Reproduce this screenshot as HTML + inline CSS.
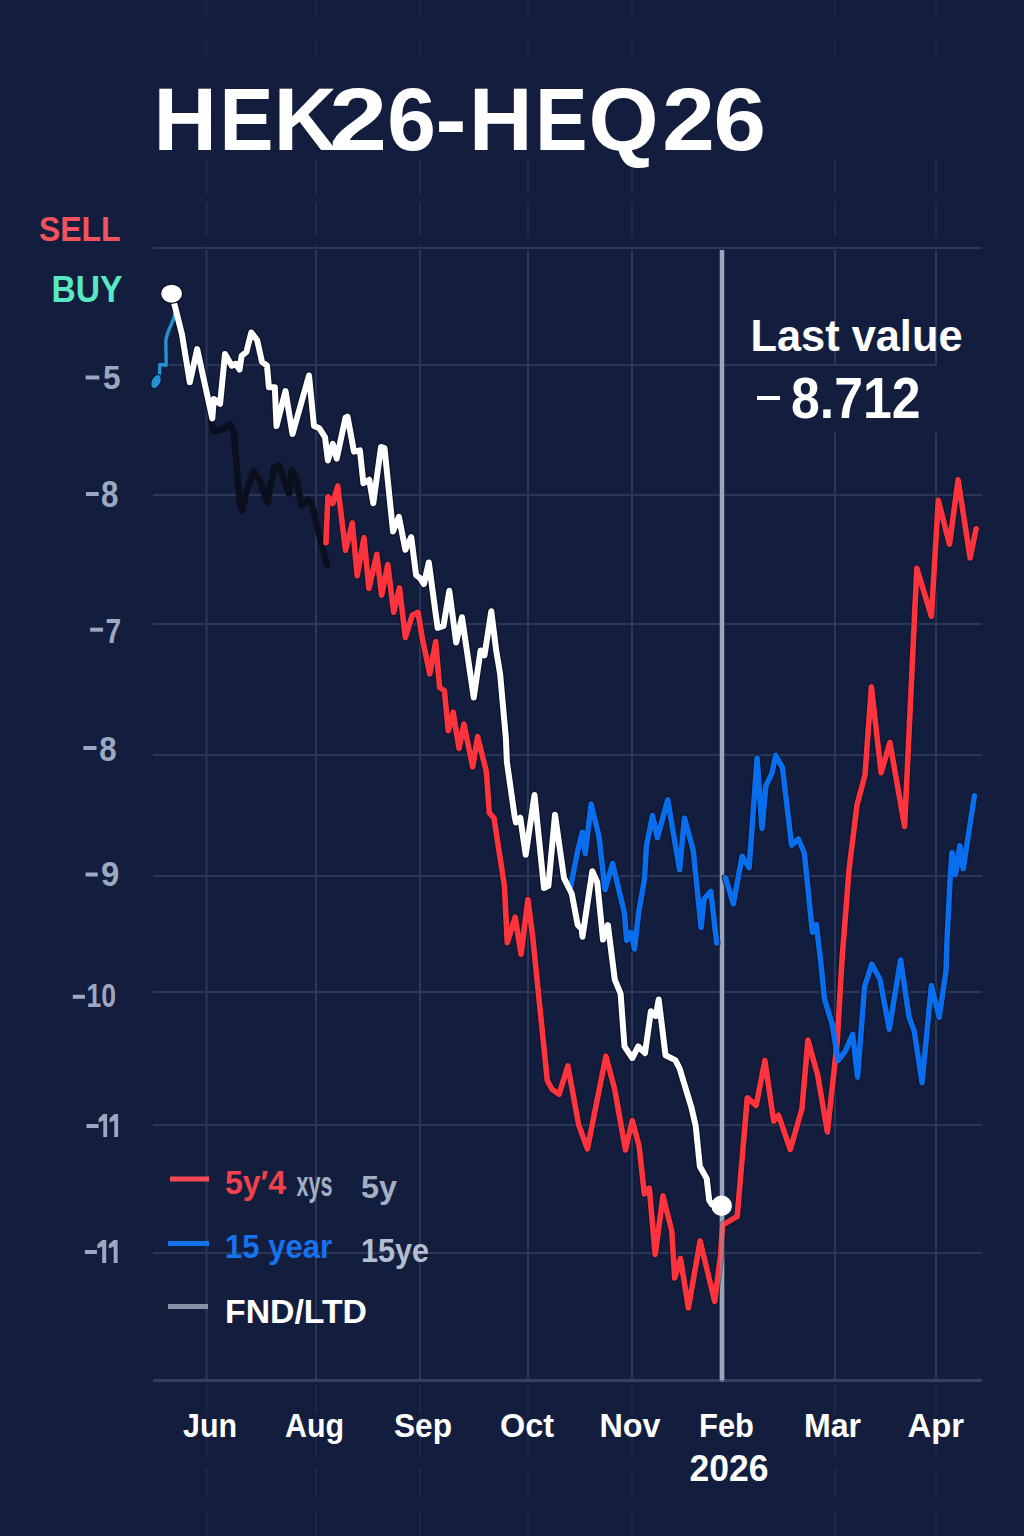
<!DOCTYPE html>
<html><head><meta charset="utf-8"><style>
html,body{margin:0;padding:0;background:#131e3e;}
body{width:1024px;height:1536px;overflow:hidden;position:relative;}
svg{position:absolute;left:0;top:0;}
text{font-family:"Liberation Sans",sans-serif;}
</style></head><body>
<svg width="1024" height="1536" viewBox="0 0 1024 1536">
<rect width="1024" height="1536" fill="#131e3e"/>
<g stroke="#2a3756" stroke-width="2" fill="none">
<line x1="153" y1="248" x2="982" y2="248" />
<line x1="169" y1="365" x2="935" y2="365" />
<line x1="153" y1="495" x2="982" y2="495" />
<line x1="153" y1="624" x2="982" y2="624" />
<line x1="153" y1="755" x2="982" y2="755" />
<line x1="153" y1="876" x2="982" y2="876" />
<line x1="153" y1="992" x2="982" y2="992" />
<line x1="153" y1="1125" x2="982" y2="1125" />
<line x1="153" y1="1253" x2="982" y2="1253" />
<line x1="206.5" y1="250" x2="206.5" y2="1381" />
<line x1="206.5" y1="160" x2="206.5" y2="246" stroke-dasharray="34 8" opacity="0.5"/>
<line x1="206.5" y1="0" x2="206.5" y2="66" stroke-dasharray="16 24" opacity="0.35"/>
<line x1="206.5" y1="1384" x2="206.5" y2="1536" stroke-dasharray="30 12" opacity="0.4"/>
<line x1="316" y1="250" x2="316" y2="1381" />
<line x1="316" y1="160" x2="316" y2="246" stroke-dasharray="34 8" opacity="0.5"/>
<line x1="316" y1="0" x2="316" y2="66" stroke-dasharray="16 24" opacity="0.35"/>
<line x1="316" y1="1384" x2="316" y2="1536" stroke-dasharray="30 12" opacity="0.4"/>
<line x1="420" y1="250" x2="420" y2="1381" />
<line x1="420" y1="160" x2="420" y2="246" stroke-dasharray="34 8" opacity="0.5"/>
<line x1="420" y1="0" x2="420" y2="66" stroke-dasharray="16 24" opacity="0.35"/>
<line x1="420" y1="1384" x2="420" y2="1536" stroke-dasharray="30 12" opacity="0.4"/>
<line x1="528" y1="250" x2="528" y2="1381" />
<line x1="528" y1="160" x2="528" y2="246" stroke-dasharray="34 8" opacity="0.5"/>
<line x1="528" y1="0" x2="528" y2="66" stroke-dasharray="16 24" opacity="0.35"/>
<line x1="528" y1="1384" x2="528" y2="1536" stroke-dasharray="30 12" opacity="0.4"/>
<line x1="632" y1="250" x2="632" y2="1381" />
<line x1="632" y1="160" x2="632" y2="246" stroke-dasharray="34 8" opacity="0.5"/>
<line x1="632" y1="0" x2="632" y2="66" stroke-dasharray="16 24" opacity="0.35"/>
<line x1="632" y1="1384" x2="632" y2="1536" stroke-dasharray="30 12" opacity="0.4"/>
<line x1="835" y1="250" x2="835" y2="1381" />
<line x1="835" y1="160" x2="835" y2="246" stroke-dasharray="34 8" opacity="0.5"/>
<line x1="835" y1="0" x2="835" y2="66" stroke-dasharray="16 24" opacity="0.35"/>
<line x1="835" y1="1384" x2="835" y2="1536" stroke-dasharray="30 12" opacity="0.4"/>
<line x1="936" y1="250" x2="936" y2="1381" />
<line x1="936" y1="160" x2="936" y2="246" stroke-dasharray="34 8" opacity="0.5"/>
<line x1="936" y1="0" x2="936" y2="66" stroke-dasharray="16 24" opacity="0.35"/>
<line x1="936" y1="1384" x2="936" y2="1536" stroke-dasharray="30 12" opacity="0.4"/>
</g>
<rect x="745" y="366" width="195" height="67" fill="#131e3e"/>
<line x1="153" y1="1380.5" x2="982" y2="1380.5" stroke="#33415f" stroke-width="3"/>
<line x1="722" y1="250" x2="722" y2="1380" stroke="#98a7bb" stroke-width="4.5"/>
<text transform="translate(153.52 149.6) scale(0.9781 1)" x="0" y="0" font-size="89.7" fill="#ffffff" font-weight="bold">H</text>
<text transform="translate(219.58 149.6) scale(0.9018 1)" x="0" y="0" font-size="89.7" fill="#ffffff" font-weight="bold">E</text>
<text transform="translate(273.85 149.6) scale(0.9729 1)" x="0" y="0" font-size="89.7" fill="#ffffff" font-weight="bold">K</text>
<text transform="translate(329.15 149.6) scale(1.1613 1)" x="0" y="0" font-size="89.7" fill="#ffffff" font-weight="bold">2</text>
<text transform="translate(387.36 149.6) scale(0.9761 1)" x="0" y="0" font-size="89.7" fill="#ffffff" font-weight="bold">6</text>
<text transform="translate(435.38 149.6) scale(1.0355 1)" x="0" y="0" font-size="89.7" fill="#ffffff" font-weight="bold">-</text>
<text transform="translate(469.11 149.6) scale(0.9800 1)" x="0" y="0" font-size="89.7" fill="#ffffff" font-weight="bold">H</text>
<text transform="translate(535.36 149.6) scale(0.8720 1)" x="0" y="0" font-size="89.7" fill="#ffffff" font-weight="bold">E</text>
<text transform="translate(588.51 149.6) scale(1.0040 1)" x="0" y="0" font-size="89.7" fill="#ffffff" font-weight="bold">Q</text>
<text transform="translate(662.29 149.6) scale(1.0544 1)" x="0" y="0" font-size="89.7" fill="#ffffff" font-weight="bold">2</text>
<text transform="translate(713.51 149.6) scale(1.0524 1)" x="0" y="0" font-size="89.7" fill="#ffffff" font-weight="bold">6</text>
<text x="39" y="240.5" font-size="35.5" fill="#f2535e" font-weight="bold" text-anchor="start" textLength="81.5" lengthAdjust="spacingAndGlyphs">SELL</text>
<text x="51.5" y="301.5" font-size="36.5" fill="#5ae8c4" font-weight="bold" text-anchor="start" textLength="71" lengthAdjust="spacingAndGlyphs">BUY</text>
<rect x="85.6" y="375.5" width="13.700000000000003" height="4" fill="#9ca8bf"/>
<text x="103" y="389.4" font-size="33.4" fill="#9ca8bf" font-weight="bold" text-anchor="start" textLength="17.5" lengthAdjust="spacingAndGlyphs">5</text>
<rect x="86" y="492" width="12.700000000000003" height="4" fill="#9ca8bf"/>
<text x="101" y="507" font-size="37.1" fill="#9ca8bf" font-weight="bold" text-anchor="start" textLength="17.4" lengthAdjust="spacingAndGlyphs">8</text>
<rect x="90.2" y="627.7" width="12.899999999999991" height="4" fill="#9ca8bf"/>
<text x="105.5" y="642.6" font-size="35.9" fill="#9ca8bf" font-weight="bold" text-anchor="start" textLength="15.7" lengthAdjust="spacingAndGlyphs">7</text>
<rect x="83.4" y="746" width="13.099999999999994" height="4" fill="#9ca8bf"/>
<text x="99.3" y="761" font-size="35.1" fill="#9ca8bf" font-weight="bold" text-anchor="start" textLength="17.3" lengthAdjust="spacingAndGlyphs">8</text>
<rect x="85.6" y="872.5" width="12.200000000000003" height="4" fill="#9ca8bf"/>
<text x="101" y="886" font-size="35.1" fill="#9ca8bf" font-weight="bold" text-anchor="start" textLength="18.3" lengthAdjust="spacingAndGlyphs">9</text>
<rect x="72.8" y="994.8" width="12.200000000000003" height="4" fill="#9ca8bf"/>
<text x="86.5" y="1006.5" font-size="33.1" fill="#9ca8bf" font-weight="bold" text-anchor="start" textLength="29.5" lengthAdjust="spacingAndGlyphs">10</text>
<rect x="86.5" y="1124" width="12.099999999999994" height="4" fill="#9ca8bf"/>
<path d="M103.3,1114 L107.1,1114 L107.1,1137 L103.3,1137 L103.3,1120.5 L98.6,1122.5 L98.6,1118.5 Z" fill="#9ca8bf"/>
<path d="M114.3,1114 L118.1,1114 L118.1,1137 L114.3,1137 L114.3,1120.5 L109.6,1122.5 L109.6,1118.5 Z" fill="#9ca8bf"/>
<rect x="84.9" y="1250" width="12.0" height="4" fill="#9ca8bf"/>
<path d="M102.2,1240 L106.2,1240 L106.2,1263 L102.2,1263 L102.2,1246.5 L97.4,1248.5 L97.4,1244.5 Z" fill="#9ca8bf"/>
<path d="M113.7,1240 L117.6,1240 L117.6,1263 L113.7,1263 L113.7,1246.5 L108.8,1248.5 L108.8,1244.5 Z" fill="#9ca8bf"/>
<text x="750.5" y="351" font-size="45" fill="#ffffff" font-weight="bold" text-anchor="start" textLength="212" lengthAdjust="spacingAndGlyphs">Last value</text>
<rect x="757" y="396" width="23" height="4" fill="#ffffff"/>
<text x="791" y="418" font-size="58" fill="#ffffff" font-weight="bold" text-anchor="start" textLength="129.5" lengthAdjust="spacingAndGlyphs">8.712</text>
<g fill="none" stroke-linejoin="round" stroke-linecap="round" stroke="#0a1124" opacity="0.75">
<polyline points="326,542.6 327.9,496.7 332.8,503.5 337.7,486 345.5,550.4 352.3,523 357.2,575.8 364,537.7 368.9,588.5 376.8,554.3 381.6,595.3 387.8,564.5 393.7,612.3 399.5,587.9 405.4,637.7 412.2,615.2 418.1,612.3 422,636.7 429.8,673.8 435.7,641.6 439.6,687.5 444.4,690.7 448.3,730.8 453.2,712.2 459,748.4 463.9,724 472.7,766.9 477.6,736.6 486.4,771.8 489.3,812.8 494,818 504.4,885.9 507.3,942.6 515.2,917.2 521,954.3 527.9,899.6 532.7,936.7 547.3,1080.6 552.2,1089.4 559.1,1094.3 567.9,1065.9 578.6,1124.5 587.4,1148.9 605.9,1056.2 614.7,1089.4 625.5,1149.9 632.3,1120.6 639.1,1146 643.4,1185.2 644.4,1194 649.3,1188.1 655.2,1254.5 663,1195.9 671.8,1231.1 674.7,1278 680.5,1258.4 688.4,1308 700.1,1240.9 714.7,1301.4 720.6,1254.5 722.5,1225.2 737.2,1216.4 747.3,1097.7 756.1,1105.5 764.9,1060.6 773.7,1121.1 778.6,1115.3 790.3,1149.5 802,1108.4 807.9,1040 817.7,1075.2 827.4,1131.9 837.2,1042 842,960 849,870 857,805 865,775 871.4,686.8 881.1,772.8 889.9,742.5 904.6,826.5 916.8,568.3 931.4,616.4 938.3,500.4 949.5,544.2 958.1,479.8 970.1,558 976.1,528.75" stroke-width="7.5"/>
<polyline points="570.8,885.9 577.7,850.8 582.3,832.2 585.3,853.7 591.1,803.9 599.1,837.1 605,889.8 612.6,863.5 624.5,913.3 626.6,940.4 631,932.5 634.5,949 638.6,912.8 644.4,879.6 646.4,846.4 652.5,815.5 657.4,837.8 667.7,799.7 679.6,869.8 684.5,818.1 693.2,850.3 701.1,927.5 704,899.1 710.8,891.3 716.7,943.1" stroke-width="7.7"/>
<polyline points="725.5,877.7 733.3,904 742.1,856.2 749.1,867.7 757.1,758.1 762,828.4 765.9,785.5 771.8,773.75 775.7,755.2 782.5,767.9 791.6,845.2 798.4,838.9 804.3,853 812.4,932.3 816.3,924.5 820.3,957.9 824.5,999.1 832.3,1024.5 838,1060.5 845,1051.8 852.6,1034.3 857.6,1077.3 864.5,987 871.8,964 880,979.5 889.2,1029.3 900.6,960 909.1,1017.3 914.2,1031.1 922,1082.7 931.4,985.5 939.2,1017.3 946,970.9 947,940 950.3,874.8 952,852.5 955.5,874.8 959.8,845.6 963.2,868.8 974.4,795.8" stroke-width="7.7"/>
<polyline points="171.3,293.8 174.2,303.2 182,334.5 189.8,382.3 197.2,349.1 212.3,418.4 213.8,398.9 220.1,403.8 225,354 231.8,365.7 235.7,363.75 239.6,369.6 241.6,355.9 246.4,352 251.3,332.5 257.2,340.3 262,361.8 267,365.7 268.9,387.2 274.8,387.2 276.5,426 285.5,391.1 292.5,434 309,375.5 314,426 319.4,428.3 325,437.1 327.9,460.5 332.8,443.9 336.7,458.6 345.5,417.6 347.5,416.6 354,451.6 359.9,450.4 363.4,483.2 369.2,479.7 373.3,503.2 381,446.9 384.5,448 393,531.5 398.9,516.9 405.4,549.8 411.25,537.1 416.1,575.2 420,578.1 423.9,584 428.8,562.5 437.6,627.9 443.5,626 449.3,590.8 456.2,642.6 462,617.2 473.75,697.5 480.6,650.4 484.5,655.3 491.3,611.3 496.2,650.4 500.1,673.8 505.9,738.6 506.9,762 514.7,816.7 516,822.5 520.3,817.7 525.7,854.8 534.5,795 544,888 548.4,885.9 555,814.7 564,878.1 571.8,893.75 577.7,925 581.6,928.9 582.5,936.7 592.3,871.3 597.2,882 603,939.6 607.9,925 614.8,979.7 620.6,993.7 624.5,1046.4 632.3,1058.1 638.2,1046.4 645,1053.2 650.9,1011.25 655.75,1016.1 658.7,999.5 665.5,1055.2 675.3,1060.1 679.6,1068.4 691.4,1107.3 695.7,1125.9 699.9,1166.6 706.7,1178.4 709.2,1200.4 712,1204.5 721.6,1205.7" stroke-width="8.5"/>
</g>
<g fill="none" stroke-linejoin="round" stroke-linecap="round">
<polyline points="156,381 159.5,374 159.9,364.4 166.2,365.2 165.8,340.2 168.1,331.6 173.6,319 176,309" stroke="#2590d2" stroke-width="3.4"/>
<polyline points="211.7,422.5 213.7,431.25 221.5,429.3 230.3,424.4 234.2,435.2 240,506.4 242,510.4 246.9,489.8 253.7,471.3 260.5,482 267.4,502.5 274.2,467.4 279.1,465.4 288.9,493.75 291.8,470.3 295.7,476.2 301.6,505.5 308.4,499.6 312.3,505.5 317.2,527 327,565" stroke="#0a0f1d" stroke-width="6.5"/>
<polyline points="326,542.6 327.9,496.7 332.8,503.5 337.7,486 345.5,550.4 352.3,523 357.2,575.8 364,537.7 368.9,588.5 376.8,554.3 381.6,595.3 387.8,564.5 393.7,612.3 399.5,587.9 405.4,637.7 412.2,615.2 418.1,612.3 422,636.7 429.8,673.8 435.7,641.6 439.6,687.5 444.4,690.7 448.3,730.8 453.2,712.2 459,748.4 463.9,724 472.7,766.9 477.6,736.6 486.4,771.8 489.3,812.8 494,818 504.4,885.9 507.3,942.6 515.2,917.2 521,954.3 527.9,899.6 532.7,936.7 547.3,1080.6 552.2,1089.4 559.1,1094.3 567.9,1065.9 578.6,1124.5 587.4,1148.9 605.9,1056.2 614.7,1089.4 625.5,1149.9 632.3,1120.6 639.1,1146 643.4,1185.2 644.4,1194 649.3,1188.1 655.2,1254.5 663,1195.9 671.8,1231.1 674.7,1278 680.5,1258.4 688.4,1308 700.1,1240.9 714.7,1301.4 720.6,1254.5 722.5,1225.2 737.2,1216.4 747.3,1097.7 756.1,1105.5 764.9,1060.6 773.7,1121.1 778.6,1115.3 790.3,1149.5 802,1108.4 807.9,1040 817.7,1075.2 827.4,1131.9 837.2,1042 842,960 849,870 857,805 865,775 871.4,686.8 881.1,772.8 889.9,742.5 904.6,826.5 916.8,568.3 931.4,616.4 938.3,500.4 949.5,544.2 958.1,479.8 970.1,558 976.1,528.75" stroke="#fd343e" stroke-width="5.6"/>
<polyline points="570.8,885.9 577.7,850.8 582.3,832.2 585.3,853.7 591.1,803.9 599.1,837.1 605,889.8 612.6,863.5 624.5,913.3 626.6,940.4 631,932.5 634.5,949 638.6,912.8 644.4,879.6 646.4,846.4 652.5,815.5 657.4,837.8 667.7,799.7 679.6,869.8 684.5,818.1 693.2,850.3 701.1,927.5 704,899.1 710.8,891.3 716.7,943.1" stroke="#0a73f8" stroke-width="5.5" opacity="0.95"/>
<polyline points="725.5,877.7 733.3,904 742.1,856.2 749.1,867.7 757.1,758.1 762,828.4 765.9,785.5 771.8,773.75 775.7,755.2 782.5,767.9 791.6,845.2 798.4,838.9 804.3,853 812.4,932.3 816.3,924.5 820.3,957.9 824.5,999.1 832.3,1024.5 838,1060.5 845,1051.8 852.6,1034.3 857.6,1077.3 864.5,987 871.8,964 880,979.5 889.2,1029.3 900.6,960 909.1,1017.3 914.2,1031.1 922,1082.7 931.4,985.5 939.2,1017.3 946,970.9 947,940 950.3,874.8 952,852.5 955.5,874.8 959.8,845.6 963.2,868.8 974.4,795.8" stroke="#0a73f8" stroke-width="5.5" opacity="0.95"/>
<line x1="722" y1="1212" x2="722" y2="1380" stroke="#98a7bb" stroke-width="4.5" opacity="0.45"/>
<polyline points="171.3,293.8 174.2,303.2 182,334.5 189.8,382.3 197.2,349.1 212.3,418.4 213.8,398.9 220.1,403.8 225,354 231.8,365.7 235.7,363.75 239.6,369.6 241.6,355.9 246.4,352 251.3,332.5 257.2,340.3 262,361.8 267,365.7 268.9,387.2 274.8,387.2 276.5,426 285.5,391.1 292.5,434 309,375.5 314,426 319.4,428.3 325,437.1 327.9,460.5 332.8,443.9 336.7,458.6 345.5,417.6 347.5,416.6 354,451.6 359.9,450.4 363.4,483.2 369.2,479.7 373.3,503.2 381,446.9 384.5,448 393,531.5 398.9,516.9 405.4,549.8 411.25,537.1 416.1,575.2 420,578.1 423.9,584 428.8,562.5 437.6,627.9 443.5,626 449.3,590.8 456.2,642.6 462,617.2 473.75,697.5 480.6,650.4 484.5,655.3 491.3,611.3 496.2,650.4 500.1,673.8 505.9,738.6 506.9,762 514.7,816.7 516,822.5 520.3,817.7 525.7,854.8 534.5,795 544,888 548.4,885.9 555,814.7 564,878.1 571.8,893.75 577.7,925 581.6,928.9 582.5,936.7 592.3,871.3 597.2,882 603,939.6 607.9,925 614.8,979.7 620.6,993.7 624.5,1046.4 632.3,1058.1 638.2,1046.4 645,1053.2 650.9,1011.25 655.75,1016.1 658.7,999.5 665.5,1055.2 675.3,1060.1 679.6,1068.4 691.4,1107.3 695.7,1125.9 699.9,1166.6 706.7,1178.4 709.2,1200.4 712,1204.5 721.6,1205.7" stroke="#ffffff" stroke-width="6"/>
</g>
<ellipse cx="156" cy="381.5" rx="4.6" ry="7.5" fill="#2590d2" stroke="#0a1124" stroke-width="1" transform="rotate(25 156 381.5)"/>
<ellipse cx="171.6" cy="293.7" rx="11" ry="9.6" fill="#ffffff" stroke="#0a1124" stroke-width="1.2"/>
<circle cx="721.6" cy="1205.7" r="10.3" fill="#ffffff"/>
<g stroke-width="5">
<line x1="170" y1="1179" x2="209" y2="1179" stroke="#f24a55"/>
<line x1="168" y1="1243.5" x2="209" y2="1243.5" stroke="#1673f0"/>
<line x1="168" y1="1306.5" x2="208" y2="1306.5" stroke="#8592a8"/>
</g>
<text x="225" y="1194" font-size="33.5" fill="#f2414c" font-weight="bold" text-anchor="start" textLength="61" lengthAdjust="spacingAndGlyphs">5y′4</text>
<text x="296.5" y="1196" font-size="35" fill="#a3b0c4" font-weight="bold" text-anchor="start" textLength="36" lengthAdjust="spacingAndGlyphs">xys</text>
<text x="361" y="1198" font-size="31" fill="#a3b0c4" font-weight="bold" text-anchor="start" textLength="36" lengthAdjust="spacingAndGlyphs">5y</text>
<text x="225" y="1258" font-size="33" fill="#1673f0" font-weight="bold" text-anchor="start" textLength="107" lengthAdjust="spacingAndGlyphs">15 year</text>
<text x="361" y="1262" font-size="32.5" fill="#b3bfd0" font-weight="bold" text-anchor="start" textLength="68" lengthAdjust="spacingAndGlyphs">15ye</text>
<text x="225" y="1322.5" font-size="32.7" fill="#ffffff" font-weight="bold" text-anchor="start" textLength="142" lengthAdjust="spacingAndGlyphs">FND/LTD</text>
<text x="183" y="1436.5" font-size="33" fill="#ffffff" font-weight="bold" text-anchor="start" textLength="54" lengthAdjust="spacingAndGlyphs">Jun</text>
<text x="285" y="1436.5" font-size="33" fill="#ffffff" font-weight="bold" text-anchor="start" textLength="59" lengthAdjust="spacingAndGlyphs">Aug</text>
<text x="394" y="1436.5" font-size="33" fill="#ffffff" font-weight="bold" text-anchor="start" textLength="58" lengthAdjust="spacingAndGlyphs">Sep</text>
<text x="500" y="1436.5" font-size="33" fill="#ffffff" font-weight="bold" text-anchor="start" textLength="54" lengthAdjust="spacingAndGlyphs">Oct</text>
<text x="599.5" y="1436.5" font-size="33" fill="#ffffff" font-weight="bold" text-anchor="start" textLength="61" lengthAdjust="spacingAndGlyphs">Nov</text>
<text x="699" y="1436.5" font-size="33" fill="#ffffff" font-weight="bold" text-anchor="start" textLength="55" lengthAdjust="spacingAndGlyphs">Feb</text>
<text x="804" y="1436.5" font-size="33" fill="#ffffff" font-weight="bold" text-anchor="start" textLength="57" lengthAdjust="spacingAndGlyphs">Mar</text>
<text x="907.5" y="1436.5" font-size="33" fill="#ffffff" font-weight="bold" text-anchor="start" textLength="56.5" lengthAdjust="spacingAndGlyphs">Apr</text>
<text x="689.5" y="1480.5" font-size="36" fill="#ffffff" font-weight="bold" text-anchor="start" textLength="79" lengthAdjust="spacingAndGlyphs">2026</text>
</svg>
</body></html>
